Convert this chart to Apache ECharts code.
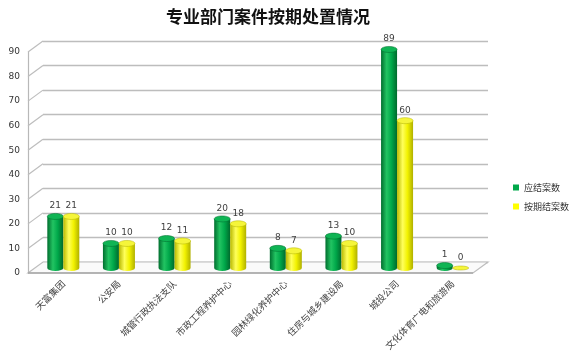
<!DOCTYPE html>
<html>
<head>
<meta charset="utf-8">
<script src="https://cdn.jsdelivr.net/npm/echarts@6/dist/echarts.min.js"></script>
<style>
  html, body { margin: 0; padding: 0; background: #fff; }
  #chart { width: 569px; height: 352px; }
</style>
</head>
<body>
<div id="chart"></div>
<script>
var categories = ['天富集团', '公安局', '城管行政执法支队', '市政工程养护中心', '园林绿化养护中心', '住房与城乡建设局', '城投公司', '文化体育广电和旅游局'];
var dueCases = [21, 10, 12, 20, 8, 13, 89, 1];
var onTimeCases = [21, 10, 11, 18, 7, 10, 60, 0];
var yTicks = [0, 10, 20, 30, 40, 50, 60, 70, 80, 90];

var myChart = echarts.init(document.getElementById('chart'));

// depth of the fake 3d box
var DX = 15, DY = 11;

function cylinder(offset, colors, topColor) {
    return function (params, api) {
        var top = api.coord([api.value(0), api.value(1)]);
        var base = api.coord([api.value(0), 0]);
        var rx = 8, ry = 3;
        var x = top[0] + offset;
        var path = 'M' + (x - rx) + ' ' + top[1] +
            ' L' + (x - rx) + ' ' + base[1] +
            ' A' + rx + ' ' + ry + ' 0 0 0 ' + (x + rx) + ' ' + base[1] +
            ' L' + (x + rx) + ' ' + top[1] + ' Z';
        var children = [];
        if (api.value(1) > 0) {
            children.push({
                type: 'path',
                shape: { pathData: path },
                style: {
                    fill: new echarts.graphic.LinearGradient(0, 0, 1, 0, [
                        { offset: 0, color: colors[0] },
                        { offset: 0.35, color: colors[1] },
                        { offset: 0.65, color: colors[2] },
                        { offset: 1, color: colors[3] }
                    ])
                }
            });
        }
        children.push({
            type: 'ellipse',
            shape: { cx: x, cy: top[1], rx: rx, ry: api.value(1) > 0 ? ry : 2 },
            style: { fill: topColor, stroke: colors[3], lineWidth: 0.5 }
        });
        children.push({
            type: 'text',
            style: {
                text: String(api.value(1)),
                x: x, y: top[1] - 6,
                align: 'center', verticalAlign: 'bottom',
                fill: '#404040',
                font: '9px "DejaVu Sans"'
            }
        });
        return { type: 'group', children: children };
    };
}

var option = {
    animation: false,
    title: {
        text: '专业部门案件按期处置情况',
        left: 263,
        textAlign: 'center',
        top: 3,
        textStyle: {
            fontFamily: 'Noto Sans CJK SC',
            fontSize: 17,
            fontWeight: 'bold',
            color: '#111'
        }
    },
    legend: {
        orient: 'vertical',
        left: 508,
        top: 178,
        itemWidth: 6,
        itemHeight: 6,
        itemGap: 10,
        icon: 'rect',
        data: ['应结案数', '按期结案数'],
        textStyle: { fontSize: 9, color: '#333', fontFamily: 'Noto Sans CJK SC' }
    },
    grid: [
        { left: 28, top: 52, width: 445, height: 221, outerBoundsMode: 'none' },
        { left: 35.5, top: 47, width: 445, height: 221, outerBoundsMode: 'none' },
        { left: 43, top: 41, width: 445, height: 221, outerBoundsMode: 'none' }
    ],
    xAxis: [
        { gridIndex: 0, type: 'category', data: categories, show: false },
        {
            gridIndex: 1, type: 'category', data: categories,
            axisLine: { show: false }, axisTick: { show: false },
            axisLabel: {
                rotate: 45, margin: 14, interval: 0,
                fontSize: 9.3, color: '#444', fontFamily: 'Noto Sans CJK SC'
            }
        },
        { gridIndex: 2, type: 'value', min: 0, max: 1, show: false }
    ],
    yAxis: [
        {
            gridIndex: 0, type: 'value', min: 0, max: 90, interval: 10,
            axisLine: { show: true, lineStyle: { color: '#b8b8b8', width: 1.2 } },
            axisTick: { show: false },
            splitLine: { show: false },
            axisLabel: { margin: 8, fontSize: 9, color: '#333', fontFamily: 'DejaVu Sans' }
        },
        { gridIndex: 1, type: 'value', min: 0, max: 90, interval: 10, show: false },
        {
            gridIndex: 2, type: 'value', min: 0, max: 90, interval: 10,
            axisLine: { show: false }, axisTick: { show: false }, axisLabel: { show: false },
            splitLine: { show: true, lineStyle: { color: '#bdbdbd', width: 1.3 } }
        }
    ],
    series: [
        {
            name: 'frame',
            type: 'custom',
            xAxisIndex: 2, yAxisIndex: 2,
            silent: true,
            z: 1,
            data: yTicks.map(function (v) { return [0, v]; }),
            renderItem: function (params, api) {
                var p = api.coord([0, api.value(1)]);
                var children = [];
                if (api.value(1) === 0) {
                    var q = api.coord([1, 0]);
                    children.push({
                        type: 'polygon',
                        shape: { points: [p, q, [q[0] - DX, q[1] + DY], [p[0] - DX, p[1] + DY]] },
                        style: { fill: '#fafafa', stroke: '#bdbdbd', lineWidth: 1.2 }
                    });
                    children.push({
                        type: 'line',
                        shape: { x1: p[0] - DX, y1: p[1] + DY, x2: q[0] - DX, y2: q[1] + DY },
                        style: { stroke: '#a6a6a6', lineWidth: 1.5 }
                    });
                } else {
                    children.push({
                        type: 'line',
                        shape: { x1: p[0], y1: p[1], x2: p[0] - DX, y2: p[1] + DY },
                        style: { stroke: '#bdbdbd', lineWidth: 1.2 }
                    });
                }
                return { type: 'group', children: children };
            }
        },
        {
            name: '应结案数',
            type: 'custom',
            xAxisIndex: 1, yAxisIndex: 1,
            z: 5,
            itemStyle: { color: '#00a84a' },
            data: dueCases.map(function (v, i) { return [i, v]; }),
            renderItem: cylinder(-8, ['#006e2e', '#22c462', '#00a84a', '#00692c'], '#0fb454')
        },
        {
            name: '按期结案数',
            type: 'custom',
            xAxisIndex: 1, yAxisIndex: 1,
            z: 5,
            itemStyle: { color: '#ffff00' },
            data: onTimeCases.map(function (v, i) { return [i, v]; }),
            renderItem: cylinder(8, ['#b8b800', '#ffff5a', '#f2f200', '#b0b000'], '#f5f53a')
        }
    ]
};
myChart.setOption(option);
</script>
</body>
</html>
